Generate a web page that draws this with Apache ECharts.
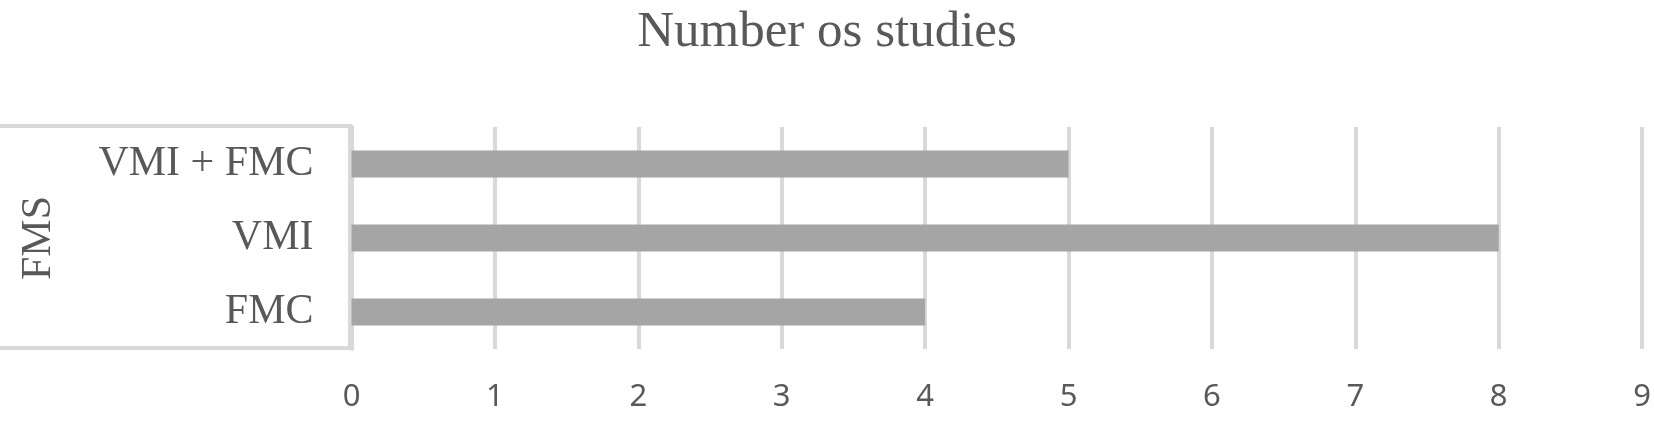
<!DOCTYPE html>
<html>
<head>
<meta charset="utf-8">
<script src="https://cdn.jsdelivr.net/npm/echarts@6/dist/echarts.min.js"></script>
<style>
  html, body { margin: 0; padding: 0; background: #fff; }
  #chart { width: 1654px; height: 421px; }
</style>
</head>
<body>
<div id="chart"></div>
<script>
// data
var categories = ['FMC', 'VMI', 'VMI + FMC'];   // bottom to top
var studies = [4, 8, 5];
var groupName = 'FMS';
var titleText = 'Number os studies';

var myChart = echarts.init(document.getElementById('chart'));
var option = {
    backgroundColor: '#ffffff',
    title: {
        text: titleText,
        left: 'center',
        top: 7,
        padding: 0,
        textStyle: {
            fontFamily: 'Liberation Serif',
            fontWeight: 'normal',
            fontSize: 51,
            color: '#595959'
        }
    },
    grid: {
        left: 351.5,
        right: 11,
        top: 127,
        bottom: 72
    },
    xAxis: {
        type: 'value',
        min: 0,
        max: 9,
        interval: 1,
        axisLine: { show: false },
        axisTick: { show: false },
        splitLine: {
            show: true,
            lineStyle: { color: '#d9d9d9', width: 4 }
        },
        axisLabel: {
            margin: 33,
            fontFamily: 'Noto Sans',
            fontSize: 31,
            color: '#595959'
        }
    },
    yAxis: {
        type: 'category',
        data: categories,
        name: groupName,
        nameLocation: 'middle',
        nameRotate: 90,
        nameGap: 292,
        nameTextStyle: {
            fontFamily: 'Liberation Serif',
            fontSize: 42,
            color: '#595959'
        },
        axisLine: { show: true, lineStyle: { color: '#d9d9d9', width: 4 } },
        axisTick: { show: false },
        axisLabel: {
            margin: 38,
            fontFamily: 'Liberation Serif',
            fontSize: 42,
            color: '#595959'
        }
    },
    // multi-level category box (decoration, as in the original spreadsheet chart)
    graphic: [{
        type: 'rect',
        shape: { x: -6, y: 126, width: 356, height: 222 },
        style: { fill: 'none', stroke: '#d9d9d9', lineWidth: 4 },
        silent: true
    }],
    series: [{
        type: 'bar',
        data: studies,
        barWidth: 27,
        itemStyle: { color: '#a5a5a5' }
    }]
};
myChart.setOption(option);
</script>
</body>
</html>
